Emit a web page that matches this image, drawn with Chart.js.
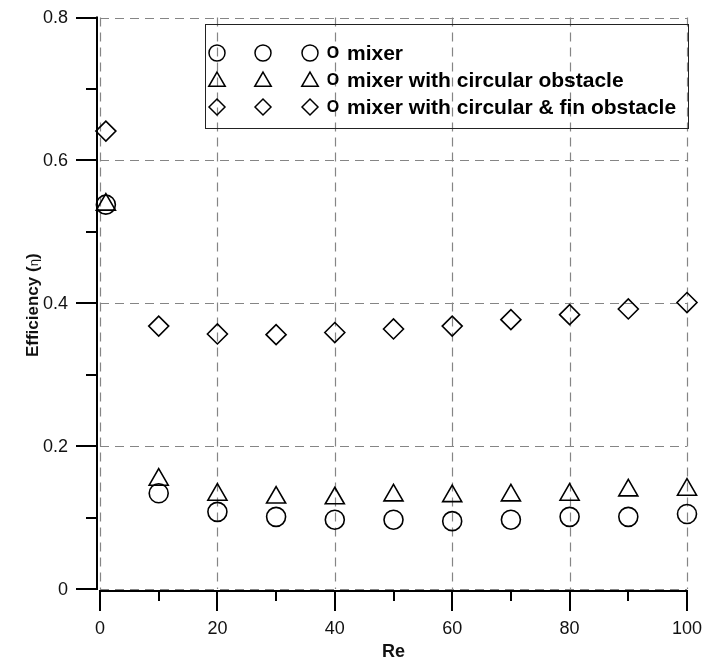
<!DOCTYPE html>
<html><head><meta charset="utf-8">
<script src="https://cdn.jsdelivr.net/npm/chart.js@4/dist/chart.umd.min.js"></script>
<style>html,body{margin:0;padding:0;background:#fff;}#wrap{width:702px;height:660px;position:relative;}</style>
</head><body><div id="wrap"><canvas id="c" width="702" height="660"></canvas></div>
<script>
// ---- data ----
const reValues = [1, 10, 20, 30, 40, 50, 60, 70, 80, 90, 100];
const mixer = [0.538, 0.134, 0.108, 0.101, 0.097, 0.097, 0.095, 0.097, 0.101, 0.101, 0.105];
const mixerCircular = [0.538, 0.153, 0.132, 0.128, 0.127, 0.131, 0.130, 0.131, 0.132, 0.138, 0.139];
const mixerFin = [0.641, 0.368, 0.357, 0.356, 0.359, 0.364, 0.368, 0.377, 0.384, 0.392, 0.401];
const seriesNames = ['mixer', 'mixer with circular obstacle', 'mixer with circular & fin obstacle'];
const seriesStyles = ['circle', 'triangle', 'rectRot'];
const xTicks = [0, 20, 40, 60, 80, 100];
const xTickLabels = ['0', '20', '40', '60', '80', '100'];
const xMinor = [10, 30, 50, 70, 90];
const yTicks = [0, 0.2, 0.4, 0.6, 0.8];
const yTickLabels = ['0', '0.2', '0.4', '0.6', '0.8'];
const yMinor = [0.1, 0.3, 0.5, 0.7];
const xTitle = 'Re';
const yTitleMain = 'Efficiency (';
const yTitleSym = 'η';
const yTitleEnd = ')';

const FONT = "'Liberation Sans', Arial, sans-serif";
const radii = {circle: 9.5, triangle: 11, rectRot: 10};

function toPoints(vals) { return reValues.map((r, i) => ({x: r, y: vals[i]})); }

function drawMarker(ctx, style, x, y, r) {
  ctx.beginPath();
  if (style === 'circle') {
    ctx.arc(x, y, r, 0, Math.PI * 2);
  } else if (style === 'triangle') {
    let a = 0;
    ctx.moveTo(x + Math.sin(a) * r, y - Math.cos(a) * r);
    a += Math.PI * 2 / 3; ctx.lineTo(x + Math.sin(a) * r, y - Math.cos(a) * r);
    a += Math.PI * 2 / 3; ctx.lineTo(x + Math.sin(a) * r, y - Math.cos(a) * r);
    ctx.closePath();
  } else {
    ctx.moveTo(x - r, y); ctx.lineTo(x, y - r); ctx.lineTo(x + r, y); ctx.lineTo(x, y + r);
    ctx.closePath();
  }
  ctx.stroke();
}

const frame = {
  id: 'frame',
  beforeDatasetsDraw(chart) {
    const {ctx, scales: {x, y}} = chart;
    const top = y.getPixelForValue(yTicks[yTicks.length - 1]);
    const bottom = y.getPixelForValue(yTicks[0]);
    const left = x.getPixelForValue(xTicks[0]);
    const right = x.getPixelForValue(xTicks[xTicks.length - 1]);
    ctx.save();
    // dashed grid
    ctx.strokeStyle = '#858585'; ctx.lineWidth = 1.2; ctx.setLineDash([9, 6]);
    xTicks.forEach(v => {
      const px = Math.round(x.getPixelForValue(v)) + 0.5;
      ctx.beginPath(); ctx.moveTo(px, top); ctx.lineTo(px, bottom); ctx.stroke();
    });
    yTicks.forEach(v => {
      const py = Math.round(y.getPixelForValue(v)) + 0.5;
      ctx.beginPath(); ctx.moveTo(left, py); ctx.lineTo(right, py); ctx.stroke();
    });
    ctx.setLineDash([]);
    // axes
    ctx.strokeStyle = '#000'; ctx.lineWidth = 2;
    const ax = Math.round(left) - 3.5 + 0.5;
    const ay = Math.round(bottom) + 2;
    ctx.beginPath(); ctx.moveTo(ax, top - 1); ctx.lineTo(ax, bottom + 1); ctx.stroke();
    ctx.beginPath(); ctx.moveTo(left - 1, ay); ctx.lineTo(right + 1, ay); ctx.stroke();
    yTicks.forEach(v => {
      const py = Math.round(y.getPixelForValue(v));
      ctx.beginPath(); ctx.moveTo(ax - 21, py); ctx.lineTo(ax + 1, py); ctx.stroke();
    });
    yMinor.forEach(v => {
      const py = Math.round(y.getPixelForValue(v));
      ctx.beginPath(); ctx.moveTo(ax - 11, py); ctx.lineTo(ax + 1, py); ctx.stroke();
    });
    xTicks.forEach(v => {
      const px = Math.round(x.getPixelForValue(v));
      ctx.beginPath(); ctx.moveTo(px, ay - 1); ctx.lineTo(px, ay + 20); ctx.stroke();
    });
    xMinor.forEach(v => {
      const px = Math.round(x.getPixelForValue(v));
      ctx.beginPath(); ctx.moveTo(px, ay - 1); ctx.lineTo(px, ay + 10); ctx.stroke();
    });
    // tick labels
    ctx.fillStyle = '#111';
    ctx.font = '18px ' + FONT;
    ctx.textAlign = 'right'; ctx.textBaseline = 'middle';
    yTicks.forEach((v, i) => ctx.fillText(yTickLabels[i], ax - 29, y.getPixelForValue(v) + 1));
    ctx.textAlign = 'center'; ctx.textBaseline = 'alphabetic';
    xTicks.forEach((v, i) => ctx.fillText(xTickLabels[i], x.getPixelForValue(v), 634));
    // axis titles
    ctx.font = 'bold 18px ' + FONT;
    ctx.fillText(xTitle, (left + right) / 2, 657);
    ctx.save();
    ctx.translate(33, (top + bottom) / 2 + 2);
    ctx.rotate(-Math.PI / 2);
    ctx.textBaseline = 'middle';
    ctx.font = 'bold 17px ' + FONT;
    const w1 = ctx.measureText(yTitleMain).width;
    const w3 = ctx.measureText(yTitleEnd).width;
    ctx.font = '13px ' + FONT;
    const w2 = ctx.measureText(yTitleSym).width;
    let sx = -(w1 + w2 + w3) / 2;
    ctx.textAlign = 'left';
    ctx.font = 'bold 17px ' + FONT; ctx.fillText(yTitleMain, sx, 0); sx += w1;
    ctx.font = '13px ' + FONT; ctx.fillText(yTitleSym, sx, 1); sx += w2;
    ctx.font = 'bold 17px ' + FONT; ctx.fillText(yTitleEnd, sx, 0);
    ctx.restore();
    ctx.restore();
  },
  afterDatasetsDraw(chart) {
    const {ctx} = chart;
    ctx.save();
    // legend box
    ctx.strokeStyle = '#222'; ctx.lineWidth = 1;
    ctx.strokeRect(205.5, 24.5, 483, 104);
    const rowsY = [53, 80, 107];
    const symX = [217, 263, 310];
    ctx.lineWidth = 1.5; ctx.strokeStyle = '#000';
    rowsY.forEach((ry, i) => {
      const st = seriesStyles[i];
      const r = st === 'circle' ? 8 : (st === 'triangle' ? 9.5 : 8);
      symX.forEach(sx => drawMarker(ctx, st, sx, st === 'triangle' ? ry + 1.5 : ry, r));
      ctx.fillStyle = '#000';
      ctx.textBaseline = 'middle';
      ctx.textAlign = 'center';
      ctx.font = 'bold 16px ' + FONT;
      ctx.fillText('O', 333, ry + 1);
      ctx.textAlign = 'left';
      ctx.font = 'bold 21px ' + FONT;
      ctx.fillText(seriesNames[i], 347, ry + 1);
    });
    ctx.restore();
  }
};

const mk = (label, vals, style) => ({
  label, data: toPoints(vals), showLine: false, clip: false,
  pointStyle: style, pointRadius: radii[style], pointHoverRadius: radii[style],
  pointBorderWidth: 1.6, pointBorderColor: '#000', pointBackgroundColor: 'rgba(0,0,0,0)',
  borderColor: '#000', backgroundColor: 'rgba(0,0,0,0)'
});

new Chart(document.getElementById('c'), {
  type: 'scatter',
  data: {datasets: [
    mk(seriesNames[0], mixer, 'circle'),
    mk(seriesNames[1], mixerCircular, 'triangle'),
    mk(seriesNames[2], mixerFin, 'rectRot')
  ]},
  options: {
    responsive: false, animation: false, devicePixelRatio: 1,
    layout: {padding: {left: 100, right: 15, top: 17.5, bottom: 71}},
    plugins: {legend: {display: false}, tooltip: {enabled: false}},
    scales: {
      x: {type: 'linear', min: 0, max: 100, display: false},
      y: {type: 'linear', min: 0, max: 0.8, display: false}
    }
  },
  plugins: [frame]
});
</script></body></html>
